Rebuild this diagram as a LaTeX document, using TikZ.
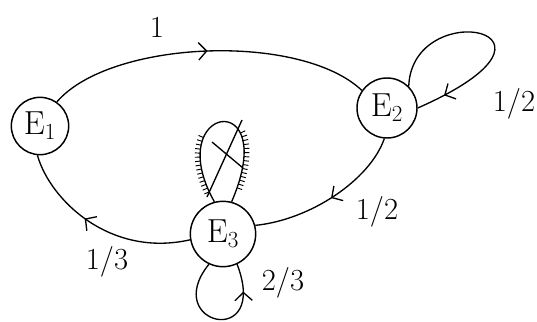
\documentclass[tikz,border=0pt]{standalone}
\usepackage{fontspec}
\usetikzlibrary{arrows.meta,decorations.markings}
\begin{document}
\begin{tikzpicture}[x=0.75pt,y=-0.75pt,
  st/.style={circle, draw, line width=1.1pt, inner sep=0pt, font=\fontsize{25}{27}\selectfont},
  edge/.style={line width=1pt},
  arrowat/.style={postaction={decorate, decoration={markings, mark=at position #1 with {\arrow{Straight Barb[length=6pt,width=13pt,line width=1pt]}}}}},
  hatch/.style={postaction={decorate, decoration={markings,
     mark=between positions 0.06 and 0.38 step 3pt with {\draw[line width=0.7pt] (0,0) -- (0,4pt);},
     mark=between positions 0.62 and 0.94 step 3pt with {\draw[line width=0.7pt] (0,0) -- (0,4pt);}}}},
  lbl/.style={font=\fontsize{23}{25}\selectfont, inner sep=1pt}]
\useasboundingbox (0,0) rectangle (537,322);
\fill[white] (0,0) rectangle (537,322);

\node[st, minimum size=43pt] (E1) at (40,126) {E$_1$};
\node[st, minimum size=45pt] (E2) at (387,108) {E$_2$};
\node[st, minimum size=49pt] (E3) at (223,234) {E$_3$};

% E1 -> E2
\draw[edge, arrowat=0.5] (E1.55) .. controls (110,40) and (300,32) .. (E2.145);
\node[lbl] (l1) at (157,27) {1};

% E2 self-loop
\draw[edge, arrowat=0.87] (E2.45) .. controls (412,-5) and (595,30) .. (E2.0);
\node[lbl] (l2) at (514,104) {1/2};

% E2 -> E3
\draw[edge, arrowat=0.5] (E2.265) .. controls (370,180) and (310,220) .. (E3.15);
\node[lbl] (l3) at (377,212) {1/2};

% E3 -> E1
\draw[edge, arrowat=0.58] (E3.190) .. controls (110,258) and (50,200) .. (E1.265);
\node[lbl] (l4) at (107,262) {1/3};

% E3 bottom self-loop
\draw[edge, arrowat=0.8] (E3.245) .. controls (160,325) and (270,350) .. (E3.295);
\node[lbl] (l5) at (283,283) {2/3};

% crossed-out loop above E3
\draw[edge, hatch] (E3.105) .. controls (160,105) and (282,85) .. (E3.75);
\coordinate (xa) at (207,197);
\coordinate (xb) at (242,120);
\coordinate (xc) at (212,142);
\coordinate (xd) at (243,168);
\draw[edge] (xa) -- (xb);
\draw[edge] (xc) -- (xd);
\end{tikzpicture}
\end{document}
